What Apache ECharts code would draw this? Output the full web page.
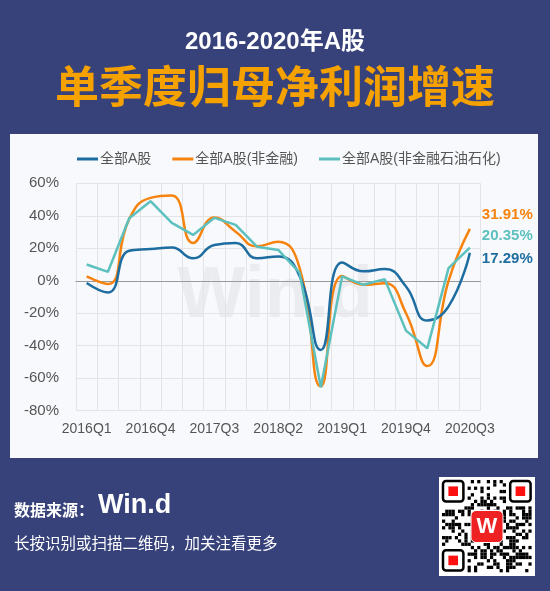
<!DOCTYPE html>
<html><head><meta charset="utf-8">
<script src="https://cdn.jsdelivr.net/npm/echarts@6/dist/echarts.min.js"></script>
<style>html,body{margin:0;padding:0;background:#37417A;}#c{width:550px;height:591px;}</style>
</head><body><div id="c"></div>
<script>
const categories = ['2016Q1','2016Q2','2016Q3','2016Q4','2017Q1','2017Q2','2017Q3','2017Q4','2018Q1','2018Q2','2018Q3','2018Q4','2019Q1','2019Q2','2019Q3','2019Q4','2020Q1','2020Q2','2020Q3'];
const allA    = [-1.4, -7.2, 18.5, 19.5, 20.4, 13.8, 22.0, 23.2, 13.8, 15.0, 3.0, -42.6, 11.3, 5.8, 7.2, -3.5, -24.5, -15.8, 17.29];
const nonFin  = [2.7, -2.0, 38.0, 51.0, 52.5, 23.3, 39.0, 30.2, 21.2, 24.0, 8.0, -65.0, 3.0, -2.5, -1.5, -20.0, -52.5, 0.0, 31.91];
const exOil   = [10.0, 5.5, 38.5, 49.0, 35.6, 28.2, 38.7, 34.4, 21.0, 19.0, 5.0, -65.6, 2.7, -2.5, 1.0, -30.7, -41.6, 7.8, 20.35];
const seriesNames = ['全部A股','全部A股(非金融)','全部A股(非金融石油石化)'];
const yTicks = {min:-80, max:60, interval:20};

const C_BLUE='#1D6DA1', C_ORANGE='#F7830F', C_TEAL='#5CC1BE';
const chart = echarts.init(document.getElementById('c'), null, {renderer:'canvas'});

// decorative QR-like pattern
const qrEls = [];
const qx=439, qy=477, qw=96, qh=99;
qrEls.push({type:'rect', shape:{x:qx,y:qy,width:qw,height:qh}, style:{fill:'#fff'}, z:10});
const cell=3.2, n=28;
for(let r=0;r<n;r++){for(let c=0;c<n;c++){
  const inFinder=(r<8&&c<8)||(r<8&&c>n-9)||(r>n-9&&c<8);
  if(inFinder) continue;
  const h=((r*73856093)^(c*19349663)^(r*c*83492791))>>>0;
  if(h%7<3) qrEls.push({type:'rect',shape:{x:qx+3+c*cell,y:qy+3+r*(cell*1.03),width:cell,height:cell*1.03},style:{fill:'#000'},z:11});
}}
[[0,0],[0,n-7],[n-7,0]].forEach(([r,c])=>{
  const x=qx+3+c*cell, y=qy+3+r*cell*1.03;
  qrEls.push({type:'rect',shape:{x:x+1,y:y+1,width:cell*7-2,height:cell*7-2,r:3},style:{fill:'#fff',stroke:'#000',lineWidth:2.5},z:12});
  qrEls.push({type:'rect',shape:{x:x+cell*2,y:y+cell*2,width:cell*3,height:cell*3},style:{fill:'#FF1010'},z:13});
});
qrEls.push({type:'rect',shape:{x:qx+qw/2-16,y:qy+qh/2-16,width:32,height:32,r:5},style:{fill:'#EE2222',stroke:'#fff',lineWidth:1},z:14});
qrEls.push({type:'text',x:qx+qw/2,y:qy+qh/2,style:{text:'W',fill:'#fff',font:'bold 22px "Liberation Sans", Arial',align:'center',verticalAlign:'middle'},z:15});

function endLbl(color, val, dy){
  return {show:true, formatter:()=>val.toFixed(2)+'%', color:color, fontWeight:'bold', fontSize:15, fontFamily:'"Liberation Sans", Arial', distance:12, offset:[0,dy]};
}

chart.setOption({
  backgroundColor:'#37417A',
  animation:false,
  textStyle:{fontFamily:'"Liberation Sans", Arial, "Noto Sans CJK SC"'},
  title:[
    {text:'2016-2020年A股', left:'center', top:25, textStyle:{color:'#fff', fontSize:24, fontWeight:'bold', fontFamily:'"Liberation Sans", Arial, "Noto Sans CJK SC"'}},
    {text:'单季度归母净利润增速', left:'center', top:59, textStyle:{color:'#F5A100', fontSize:44, fontWeight:'bold', fontFamily:'"Noto Sans CJK SC"'}}
  ],
  graphic:[
    {type:'rect', shape:{x:10,y:134,width:528,height:324}, style:{fill:'#F8F9FC'}, z:-100},
    {type:'text', x:275, y:297, style:{text:'Win.d', fill:'rgba(0,0,0,0.05)', font:'bold 72px "Liberation Sans", Arial', align:'center', verticalAlign:'middle'}, z:-50},
    {type:'text', x:14, y:510, style:{text:'数据来源：', fill:'#fff', font:'bold 16px "Noto Sans CJK SC"', verticalAlign:'middle'}},
    {type:'text', x:98, y:506, style:{text:'Win.d', fill:'#fff', font:'bold 27px "Liberation Sans", Arial', verticalAlign:'middle'}},
    {type:'text', x:14, y:543, style:{text:'长按识别或扫描二维码，加关注看更多', fill:'#fff', font:'15.5px "Noto Sans CJK SC"', verticalAlign:'middle'}},
    ...qrEls
  ],
  legend:{
    left:72, top:147, itemWidth:21, itemHeight:3, itemGap:21, icon:'rect',
    textStyle:{color:'#555', fontSize:14, padding:[0,0,0,-3]},
    data:seriesNames
  },
  grid:{left:76, right:69.5, top:183.3, bottom:180.3, containLabel:false},
  xAxis:{
    type:'category', data:categories, boundaryGap:true,
    axisLine:{show:true, onZero:true, lineStyle:{color:'#9a9a9a', width:1}},
    axisTick:{show:false},
    axisLabel:{interval:2, color:'#555', fontSize:14, margin:11},
    splitLine:{show:true, interval:0, lineStyle:{color:'#E4E4E4', width:1}}
  },
  yAxis:{
    type:'value', min:yTicks.min, max:yTicks.max, interval:yTicks.interval,
    axisLine:{show:false}, axisTick:{show:false},
    axisLabel:{formatter:'{value}%', color:'#555', fontSize:15, margin:17},
    splitLine:{lineStyle:{color:'#E4E4E4', width:1}}
  },
  series:[
    {name:seriesNames[0], type:'line', data:allA, smooth:true, showSymbol:false, symbol:'none',
     lineStyle:{color:C_BLUE, width:2.5}, itemStyle:{color:C_BLUE}, z:4,
     endLabel:endLbl(C_BLUE, allA[allA.length-1], 6.5)},
    {name:seriesNames[1], type:'line', data:nonFin, smooth:true, showSymbol:false, symbol:'none',
     lineStyle:{color:C_ORANGE, width:2.5}, itemStyle:{color:C_ORANGE}, z:3,
     endLabel:endLbl(C_ORANGE, nonFin[nonFin.length-1], -14)},
    {name:seriesNames[2], type:'line', data:exOil, smooth:false, showSymbol:false, symbol:'none',
     lineStyle:{color:C_TEAL, width:2.5}, itemStyle:{color:C_TEAL}, z:5,
     endLabel:endLbl(C_TEAL, exOil[exOil.length-1], -12)}
  ]
});
</script></body></html>
